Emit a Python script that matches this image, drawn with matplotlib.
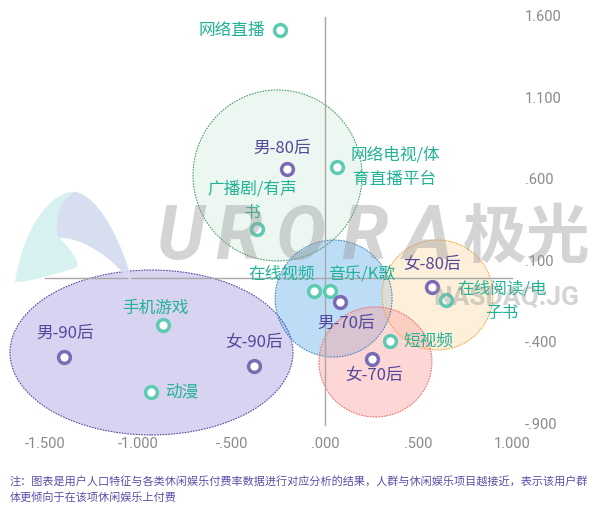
import matplotlib.pyplot as plt
from matplotlib.patches import Ellipse, PathPatch
from matplotlib.path import Path
from matplotlib.transforms import Affine2D

plt.rcParams['font.family'] = ['Noto Sans CJK SC', 'DejaVu Sans']

# correspondence analysis coordinates
items = ['网络直播', '网络电视/体\n育直播平台', '广播剧/有声\n书', '在线视频', '音乐/K歌',
         '在线阅读/电\n子书', '短视频', '手机游戏', '动漫']
items_x = [-0.241, 0.064, -0.364, -0.059, 0.027, 0.648, 0.348, -0.867, -0.931]
items_y = [1.521, 0.681, 0.301, -0.080, -0.080, -0.135, -0.387, -0.288, -0.699]

groups = ['男-80后', '男-70后', '女-80后', '女-70后', '男-90后', '女-90后']
groups_x = [-0.203, 0.080, 0.573, 0.252, -1.397, -0.380]
groups_y = [0.670, -0.147, -0.055, -0.497, -0.485, -0.540]

# cluster ellipses: center x, center y, width, height
clusters_cx = [-0.254, -0.929, 0.046, 0.602, 0.270]
clusters_cy = [0.629, -0.457, -0.126, -0.104, -0.515]
clusters_w = [0.905, 1.515, 0.626, 0.594, 0.605]
clusters_h = [1.049, 1.012, 0.718, 0.675, 0.675]

xticks = [-1.5, -1.0, -0.5, 0.0, 0.5, 1.0]
yticks = [1.6, 1.1, 0.6, 0.1, -0.4, -0.9]

note = ['注：图表是用户人口特征与各类休闲娱乐付费率数据进行对应分析的结果，人群与休闲娱乐项目越接近，表示该用户群',
        '体更倾向于在该项休闲娱乐上付费']

# label offsets in points, alignment
item_lbl = {
    '网络直播': ((-10.8, 0), 'right'),
    '网络电视/体\n育直播平台': ((41.8, 0), 'center'),
    '广播剧/有声\n书': ((-3.6, 19.8), 'center'),
    '在线视频': ((-23.4, 12.2), 'center'),
    '音乐/K歌': ((23.0, 11.5), 'center'),
    '在线阅读/电\n子书': ((40.3, -1), 'center'),
    '短视频': ((9.4, 0), 'left'),
    '手机游戏': ((-5.4, 12.2), 'center'),
    '动漫': ((10.0, 0), 'left'),
}
group_lbl = {
    '男-80后': (-3.6, 15.0),
    '男-70后': (4.3, -15.1),
    '女-80后': (0, 16.5),
    '女-70后': (1.4, -11.9),
    '男-90后': (0.7, 17.3),
    '女-90后': (0, 17.3),
}

teal_mk = '#5ccbb2'
teal_txt = '#22b396'
purple_mk = '#7a6bb5'
purple_txt = '#54479c'
tick_col = '#8a8a8a'

fill_cols = ['#d9efe2', '#b3a8e3', '#7cbcf0', '#fde0b4', '#fba4a4']
fill_alpha = [0.45, 0.5, 0.5, 0.5, 0.45]
edge_cols = ['#4f9f6e', '#5a4aa0', '#4a86c0', '#f0a840', '#ee7070']

fig = plt.figure(figsize=(6, 5.08), dpi=100)
ax = fig.add_axes([0, 0, 1, 1])
ax.set_xlim(-325 / 186.8, 275 / 186.8)
ax.set_ylim(-230 / 163, 278 / 163)
ax.axis('off')

for cx, cy, w, h, fc, a, ec in zip(clusters_cx, clusters_cy, clusters_w, clusters_h,
                                    fill_cols, fill_alpha, edge_cols):
    ax.add_patch(Ellipse((cx, cy), w, h, facecolor=fc, alpha=a, edgecolor='none', zorder=1))
    ax.add_patch(Ellipse((cx, cy), w, h, facecolor='none', edgecolor=ec, lw=0.8,
                         ls=(0, (1.5, 1)), zorder=1.1))

ax.plot([xticks[0], xticks[-1]], [0, 0], color='#a8a8a8', lw=1, zorder=2)
ax.plot([0, 0], [yticks[-1], yticks[0]], color='#a8a8a8', lw=1, zorder=2)

# watermark (pixel coordinates, origin top-left)
pix = Affine2D().scale(1 / 600, -1 / 508).translate(0, 1) + fig.transFigure
C = Path.CURVE4
outer = Path([(15, 282), (25, 220), (55, 190), (75, 192), (100, 195), (125, 250), (132, 283),
              (112, 258), (85, 238), (60, 238), (68, 248), (82, 262), (76, 268),
              (55, 274), (30, 282), (15, 282)],
             [Path.MOVETO, C, C, C, C, C, C, C, C, C, C, C, C, C, C, C])
fig.add_artist(PathPatch(outer, facecolor='#cdeeee', edgecolor='none', alpha=0.8,
                         transform=pix, zorder=2))
inner = Path([(58, 237), (55, 220), (58, 200), (75, 192), (100, 195), (125, 250), (132, 283),
              (112, 258), (85, 238), (58, 237)],
             [Path.MOVETO, C, C, C, C, C, C, C, C, C])
fig.add_artist(PathPatch(inner, facecolor='#d8d6f0', edgecolor='none', alpha=0.7,
                         transform=pix, zorder=2))
for ch, px in zip('URORA', [180, 238, 300, 364, 428]):
    fig.text(px / 600, 1 - 238 / 508, ch, fontsize=54, family='Roboto', style='italic',
             fontweight='bold', color='#9a9a9a', alpha=0.42, ha='center', va='center', zorder=2)
fig.text(527 / 600, 1 - 238 / 508, '极光', fontsize=46, color='#9a9a9a', alpha=0.42,
         ha='center', va='center', zorder=2, fontweight='bold')
fig.text(506 / 600, 1 - 298 / 508, 'NASDAQ:JG', fontsize=19, family='Roboto',
         color='#9a9a9a', alpha=0.42, ha='center', va='center', zorder=2, fontweight='bold')

ax.plot(items_x, items_y, 'o', ms=8.5, mfc='white', mec=teal_mk, mew=2.5, zorder=4)
ax.plot(groups_x, groups_y, 'o', ms=8.5, mfc='white', mec=purple_mk, mew=2.5, zorder=4)

for name, x, y in zip(items, items_x, items_y):
    off, ha = item_lbl[name]
    ax.annotate(name, (x, y), xytext=off, textcoords='offset points', ha=ha, va='center',
                fontsize=12, color=teal_txt, linespacing=1.55, zorder=5)
for name, x, y in zip(groups, groups_x, groups_y):
    ax.annotate(name, (x, y), xytext=group_lbl[name], textcoords='offset points',
                ha='center', va='center', fontsize=12, color=purple_txt, zorder=5)


def fmt(v):
    s = f'{v:.3f}'
    if abs(v) < 1:
        s = s.replace('0.', '.', 1)
    return s


for v in xticks:
    ax.text(v, -166 / 163, fmt(v), ha='center', va='center', fontsize=10.5,
            family='Roboto', color=tick_col)
for v in yticks:
    ax.text(200 / 186.8, v, fmt(v), ha='left', va='center', fontsize=10.5,
            family='Roboto', color=tick_col)

for i, line in enumerate(note):
    fig.text(10 / 600, 1 - (481 + 16 * i) / 508, line, fontsize=8.0, style='italic',
             color='#5a4eaa', ha='left', va='center')

fig.savefig('out.png', dpi=100)
